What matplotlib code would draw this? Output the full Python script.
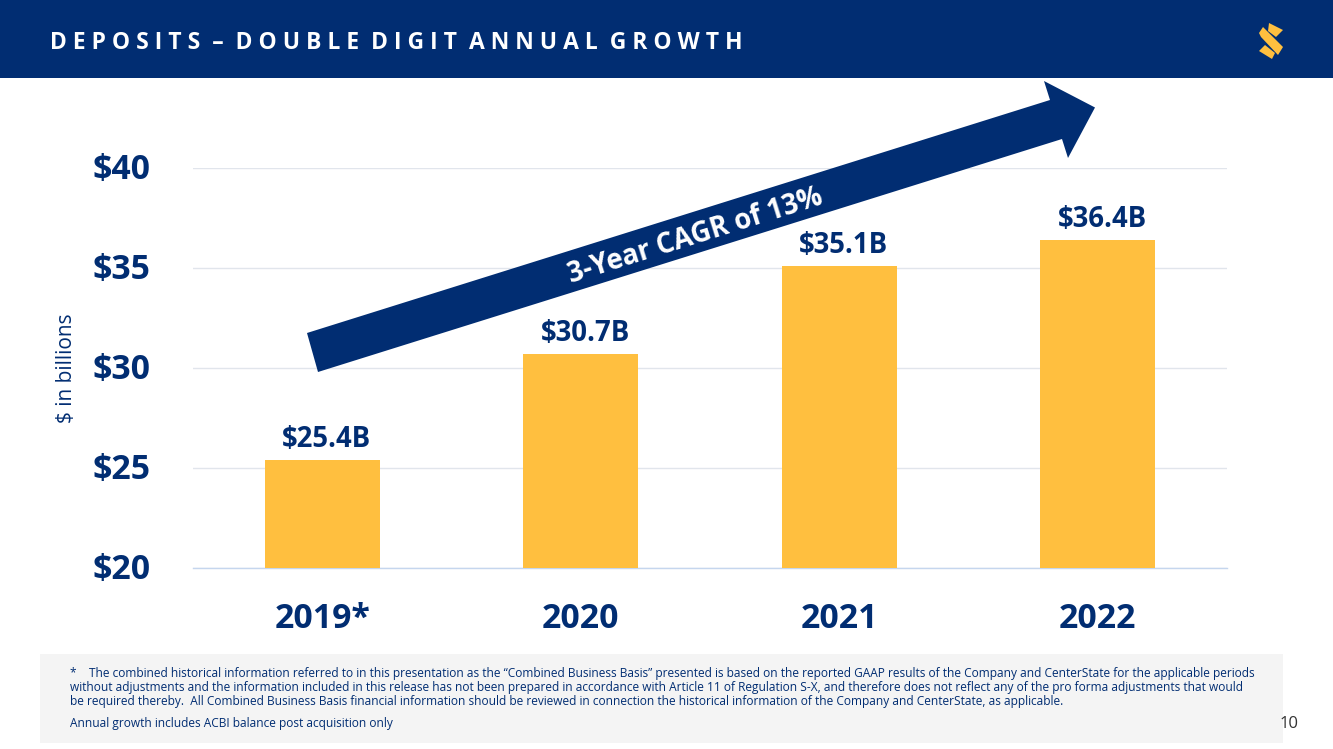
import matplotlib
matplotlib.use("Agg")
import matplotlib.pyplot as plt
from matplotlib.patches import Polygon, Rectangle
from matplotlib.transforms import ScaledTranslation

plt.rcParams["font.family"] = ["Open Sans", "DejaVu Sans"]

NAVY = "#012D72"
GOLD = "#FFBF3F"

W, H = 1333, 749

years = ["2019*", "2020", "2021", "2022"]
deposits = [25.4, 30.7, 35.1, 36.4]
bar_labels = ["$25.4B", "$30.7B", "$35.1B", "$36.4B"]
y_ticks = [20, 25, 30, 35, 40]
y_tick_labels = ["$20", "$25", "$30", "$35", "$40"]

title = "DEPOSITS – DOUBLE DIGIT ANNUAL GROWTH"
arrow_text = "3-Year CAGR of 13%"
footnote = [
    "*    The combined historical information referred to in this presentation as the “Combined Business Basis” presented is based on the reported GAAP results of the Company and CenterState for the applicable periods",
    "without adjustments and the information included in this release has not been prepared in accordance with Article 11 of Regulation S-X, and therefore does not reflect any of the pro forma adjustments that would",
    "be required thereby.  All Combined Business Basis financial information should be reviewed in connection the historical information of the Company and CenterState, as applicable.",
]
footnote_2 = "Annual growth includes ACBI balance post acquisition only"


def px_axes(fig, zorder):
    # overlay in image pixels, y pointing down
    ax = fig.add_axes([0, 0, 1, 1], zorder=zorder)
    ax.set_xlim(0, W)
    ax.set_ylim(H, 0)
    ax.axis("off")
    ax.patch.set_alpha(0)
    return ax


fig = plt.figure(figsize=(W / 100, H / 100), dpi=100, facecolor="white")

# chart
ax = fig.add_axes([193 / W, 1 - 568 / H, 1034 / W, 400 / H], zorder=2)
ax.bar(range(len(years)), deposits, width=0.445, color=GOLD, zorder=3)
for i, (val, lab) in enumerate(zip(deposits, bar_labels)):
    ax.annotate(lab, (i, val), xytext=(3.2, 4), textcoords="offset points",
                ha="center", va="bottom", fontsize=19.8, fontweight="bold", color=NAVY)
ax.set_xlim(-0.5, 3.5)
ax.set_ylim(20, 40)
ax.set_yticks(y_ticks)
ax.set_yticklabels(y_tick_labels, fontsize=24.3, fontweight="bold", color=NAVY)
ax.set_xticks(range(len(years)))
ax.set_xticklabels(years, fontsize=24.4, fontweight="bold", color=NAVY)
ax.tick_params(axis="both", length=0)
ax.tick_params(axis="y", pad=30.5)
ax.tick_params(axis="x", pad=24.5)
# tick labels sit a touch high in the original
shift = ScaledTranslation(0, 1.1 / 72, fig.dpi_scale_trans)
for lab in ax.get_yticklabels():
    lab.set_transform(lab.get_transform() + shift)
ax.grid(axis="y", color="#E1E5EC", linewidth=1.0, zorder=0)
ax.set_axisbelow(True)
ax.spines[["top", "right", "left"]].set_visible(False)
ax.spines["bottom"].set_color("#C5D6EE")
ax.spines["bottom"].set_linewidth(1.0)
ax.patch.set_alpha(0)

over = px_axes(fig, 3)

# header
over.add_patch(Rectangle((0, 0), W, 78, color=NAVY, lw=0))
over.text(50, 43, "  ".join(" ".join(w) for w in title.split(" ")), color="white", fontsize=16.48,
          fontweight="bold", va="center", ha="left")

# logo
over.add_patch(Polygon([(1269, 23), (1283, 30), (1276, 37), (1268, 31)], color=GOLD, lw=0))
over.add_patch(Polygon([(1259, 33), (1263, 27), (1283, 47), (1278, 55), (1261, 37)], color=GOLD, lw=0))
over.add_patch(Polygon([(1259, 51), (1265, 45), (1275, 53), (1272, 59)], color=GOLD, lw=0))

# arrow
over.add_patch(Polygon(
    [(318, 372), (307, 333), (1050, 100), (1044, 81), (1095, 107.5), (1068, 158), (1062, 139)],
    color=NAVY, lw=0))
over.text(695, 236, arrow_text, rotation=17.4, rotation_mode="anchor", ha="center", va="center",
          color="white", fontsize=19.8, fontweight="bold")

# axis title
over.text(67, 368, "$ in billions", rotation=90, ha="center", va="center", color=NAVY, fontsize=15)

# footnote box
over.add_patch(Rectangle((40, 654), 1243, 89, color="#F4F4F4", lw=0))
for y, line in zip([673, 688, 702], footnote):
    over.text(70, y, line, fontsize=8.52, color=NAVY, va="center", ha="left")
over.text(70, 723, footnote_2, fontsize=8.52, color=NAVY, va="center", ha="left")
over.text(1280, 724, "10", fontsize=12, color="#333333", va="center", ha="left")

fig.savefig("out.png", dpi=100)
plt.close(fig)
